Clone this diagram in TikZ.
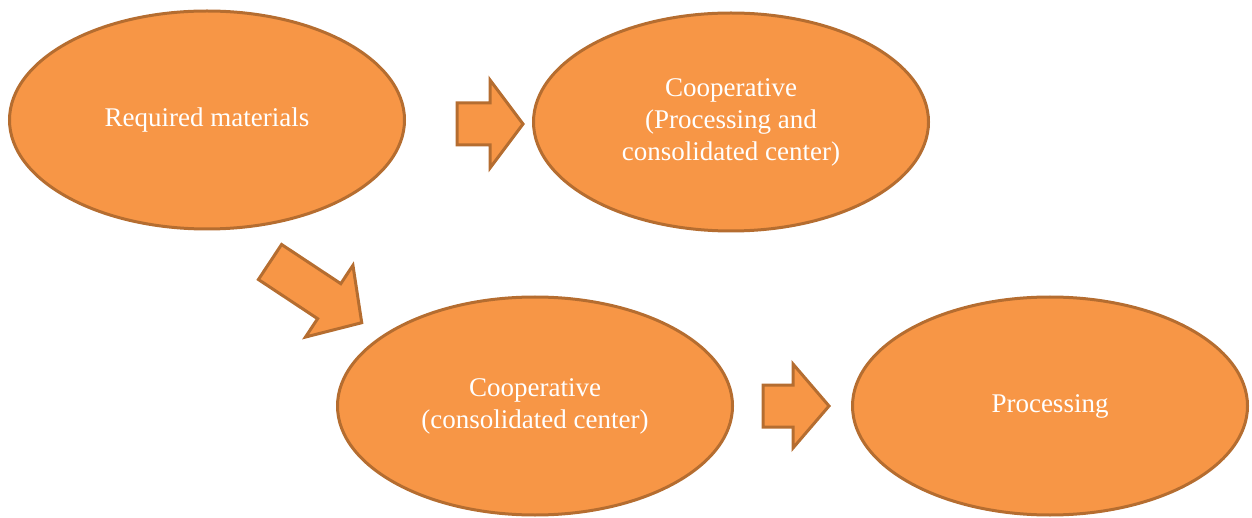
\documentclass[tikz,border=0pt]{standalone}
\usepackage{fontspec}
\setmainfont{Liberation Serif}
\usetikzlibrary{shapes.geometric}
\definecolor{ofill}{HTML}{F79646}
\definecolor{oline}{HTML}{B56D30}
% #1 tail coordinate, #2 angle, #3 total length, #4 shaft length, #5 head half-width
\newcommand\blockarrow[5]{%
  \begin{scope}[shift={(#1)},rotate=#2]
    \draw[barrow] (0,-21) -- (#4,-21) -- (#4,-#5) -- (#3,0) -- (#4,#5) -- (#4,21) -- (0,21) -- cycle;
  \end{scope}}
\begin{document}
\begin{tikzpicture}[x=1pt,y=-1pt,
  ell/.style={ellipse, draw=oline, fill=ofill, line width=3pt,
    minimum width=395pt, minimum height=218pt, text=white,
    font=\fontsize{27}{32}\selectfont, align=center, inner sep=0pt},
  barrow/.style={draw=oline, fill=ofill, line width=3pt, line join=miter}]
\useasboundingbox (0,0) rectangle (1252,518);
\node[ell] (req) at (207,120) {Required materials};
\node[ell] (coop1) at (731,122) {Cooperative\\(Processing and\\consolidated center)};
\node[ell] (coop2) at (535,406) {Cooperative\\(consolidated center)};
\node[ell] (proc) at (1050,406) {Processing};
\coordinate (a1) at (457,124);
\blockarrow{a1}{0}{66}{33}{44}
\coordinate (a2) at (270,262);
\blockarrow{a2}{-33.5}{110}{71}{43}
\coordinate (a3) at (763,406);
\blockarrow{a3}{0}{66}{30}{42}
\end{tikzpicture}
\end{document}
